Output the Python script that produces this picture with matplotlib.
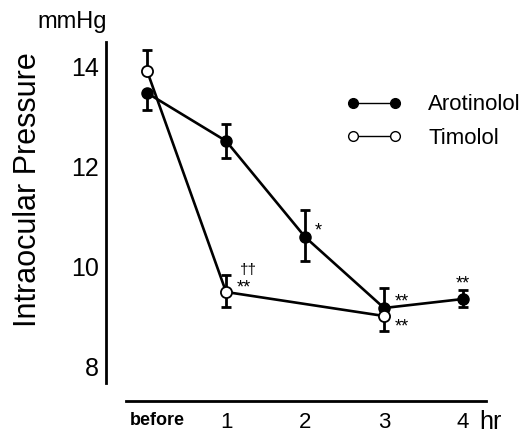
import matplotlib.pyplot as plt
from matplotlib.lines import Line2D
from matplotlib.transforms import ScaledTranslation

plt.rcParams['font.family'] = ['Liberation Sans', 'DejaVu Sans']

# time points (0 = before)
x_labels = ["before", "1", "2", "3", "4"]

aro_x = [0, 1, 2, 3, 4]
aro_y = [13.46, 12.5, 10.58, 9.16, 9.34]
aro_lo = [0.34, 0.34, 0.48, 0.0, 0.16]
aro_hi = [0.0, 0.34, 0.54, 0.40, 0.18]

tim_x = [0, 1, 3]
tim_y = [13.9, 9.48, 9.0]
tim_lo = [0.0, 0.30, 0.30]
tim_hi = [0.42, 0.34, 0.0]

# significance marks: (x, y, text, dx, dy) offsets in points
marks = [
    (2, 10.58, "*", 7, 4),
    (1, 9.48, "**", 8, 3),
    (1, 9.48, "††", 10, 16),
    (3, 9.16, "**", 8, 4),
    (3, 9.0, "**", 8, -8),
    (4, 9.34, "**", 0, 11),
]

fig = plt.figure(figsize=(5.29, 4.33), dpi=100)
ax = fig.add_axes([0.2004, 0.0739, 0.7996, 0.8291])

ax.errorbar(aro_x, aro_y, yerr=[aro_lo, aro_hi], fmt="none", ecolor="black",
            elinewidth=2, capsize=3.6, capthick=2, zorder=2)
ax.errorbar(tim_x, tim_y, yerr=[tim_lo, tim_hi], fmt="none", ecolor="black",
            elinewidth=2, capsize=3.6, capthick=2, zorder=2)
ax.plot(aro_x, aro_y, color="black", lw=1.9, marker="o", ms=8,
        mfc="black", mec="black", zorder=3)
ax.plot(tim_x, tim_y, color="black", lw=1.9, marker="o", ms=8,
        mfc="white", mec="black", mew=1.3, zorder=4)

for x, y, t, dx, dy in marks:
    ax.annotate(t, (x, y), xytext=(dx, dy), textcoords="offset points",
                ha="left" if dx else "center", va="center",
                fontsize=13 if "*" in t else 11)

ax.set_xlim(-0.52, 4.835)
ax.set_ylim(7.3, 14.48)
for s in ["top", "right"]:
    ax.spines[s].set_visible(False)
ax.spines["left"].set_bounds(7.66, 14.48)
ax.spines["bottom"].set_bounds(-0.266, 4.29)
ax.spines["left"].set_linewidth(2)
ax.spines["bottom"].set_linewidth(2)

ax.set_yticks([8, 10, 12, 14])
ax.set_yticklabels(["8", "10", "12", "14"])
ax.tick_params(axis="y", length=0, pad=5, labelsize=18)
ax.set_xticks(aro_x)
ax.set_xticklabels(x_labels)
ax.tick_params(axis="x", length=0, pad=8, labelsize=16)
lbl = ax.get_xticklabels()[0]
lbl.set_fontsize(13)
lbl.set_fontweight("bold")
lbl.set_transform(lbl.get_transform() + ScaledTranslation(10 / 100, 0, fig.dpi_scale_trans))

ax.annotate("hr", (4, 7.3), xytext=(12, -15), textcoords="offset points",
            ha="left", va="center", fontsize=18)
fig.text(37 / 529, 1 - 22 / 433, "mmHg", fontsize=17, ha="left", va="center")
ax.set_ylabel("Intraocular Pressure", fontsize=22)
ax.yaxis.set_label_coords(-0.15, 0.59)

handles = [
    Line2D([], [], color="black", lw=1, marker="o", ms=7, mfc="black", mec="black"),
    Line2D([], [], color="black", lw=1, marker="o", ms=7, mfc="white", mec="black", mew=1),
]
ax.legend(handles, ["Arotinolol", "Timolol"], loc="upper left",
          bbox_to_anchor=(0.52, 0.91), frameon=False, numpoints=2,
          handlelength=2.5, handletextpad=1.2, labelspacing=0.55, fontsize=16)

fig.savefig("out.png", dpi=100)
